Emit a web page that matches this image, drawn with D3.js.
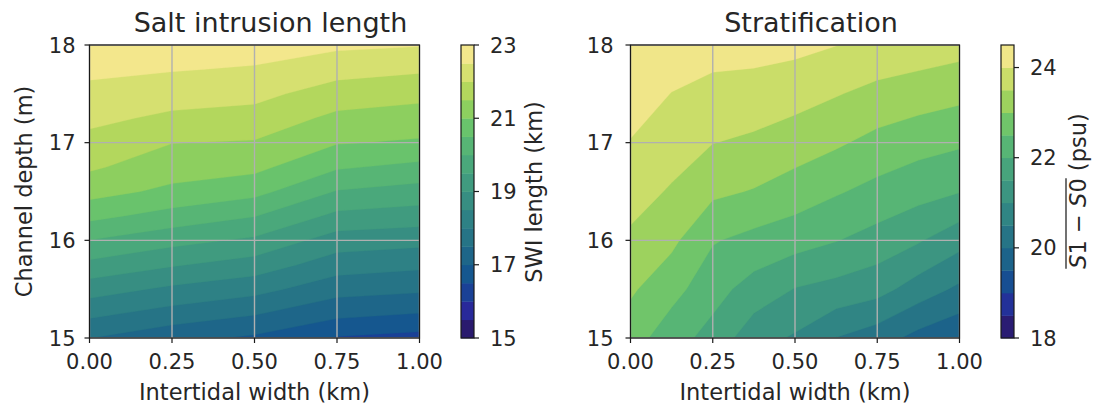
<!DOCTYPE html>
<html><head><meta charset="utf-8">
<script src="https://cdn.jsdelivr.net/npm/d3@7"></script>
<style>
body{margin:0;background:#fff}
text{font-family:"DejaVu Sans",sans-serif;fill:#262626}
</style>
</head><body>
<svg id="chart" width="1094" height="405"></svg>
<script>
// ---------------- data ----------------
const widthTicks = [0, 0.25, 0.5, 0.75, 1.0];
const widthTickLabels = ["0.00", "0.25", "0.50", "0.75", "1.00"];
const depthTicks = [15, 16, 17, 18];

// Salt intrusion length (km): columns = intertidal width, rows = channel depth (15 -> 18 m)
const swiWidth = [0, 0.25, 0.5, 0.75, 1.0];
const swiDepth = [15, 15.25, 15.5, 15.75, 16, 16.25, 16.5, 16.75, 17, 17.25, 17.5, 17.75, 18];
const swiValues = [
  [17.51, 17.15, 16.92, 16.46, 16.33],
  [18.12, 17.81, 17.54, 17.14, 16.99],
  [18.73, 18.40, 18.17, 17.69, 17.59],
  [19.37, 19.05, 18.78, 18.24, 18.11],
  [19.99, 19.67, 19.41, 18.76, 18.66],
  [20.64, 20.31, 20.02, 19.38, 19.27],
  [21.18, 20.89, 20.66, 19.97, 19.80],
  [21.57, 21.23, 21.13, 20.56, 20.37],
  [21.85, 21.51, 21.46, 21.03, 20.94],
  [22.12, 21.90, 21.81, 21.38, 21.28],
  [22.36, 22.22, 22.14, 21.77, 21.64],
  [22.61, 22.53, 22.45, 22.18, 22.07],
  [22.87, 22.83, 22.74, 22.60, 22.53]
];
const swiLevels = [15, 15.5, 16, 16.5, 17, 17.5, 18, 18.5, 19, 19.5, 20, 20.5, 21, 21.5, 22, 22.5, 23];
const swiCbTicks = [15, 17, 19, 21, 23];

// Stratification (psu)
const stratWidth = [0, 0.125, 0.25, 0.375, 0.5, 0.625, 0.75, 0.875, 1.0];
const stratDepth = [15, 15.5, 16, 16.5, 17, 17.5, 18];
const stratValues = [
  [22.74, 22.20, 21.83, 21.19, 20.94, 20.49, 20.23, 19.84, 19.59],
  [23.07, 22.68, 22.18, 21.80, 21.48, 21.34, 21.18, 20.77, 20.40],
  [23.41, 23.11, 22.54, 22.35, 22.20, 22.02, 21.81, 21.55, 21.18],
  [23.70, 23.45, 23.10, 22.97, 22.77, 22.55, 22.35, 22.18, 22.02],
  [23.98, 23.73, 23.51, 23.41, 23.25, 23.07, 22.85, 22.68, 22.57],
  [24.22, 23.99, 23.85, 23.80, 23.69, 23.53, 23.36, 23.25, 23.13],
  [24.45, 24.25, 24.19, 24.18, 24.13, 24.01, 23.86, 23.78, 23.69]
];
const stratLevels = [18, 18.5, 19, 19.5, 20, 20.5, 21, 21.5, 22, 22.5, 23, 23.5, 24, 24.5];
const stratCbTicks = [18, 20, 22, 24];

// ---------------- colormap (haline-like) ----------------
const cmapStops = [
  [0.031, "#2a1a6e"], [0.094, "#28299a"], [0.156, "#1a4196"], [0.219, "#15578f"],
  [0.281, "#1e6689"], [0.344, "#267486"], [0.406, "#2e8185"], [0.469, "#378e82"],
  [0.531, "#409b7f"], [0.594, "#4aa87b"], [0.656, "#57b575"], [0.719, "#69c36c"],
  [0.781, "#8dcf5f"], [0.844, "#b3d75d"], [0.906, "#d6e070"], [0.969, "#f3e78c"]
];
const cmap = d3.scaleLinear()
  .domain(cmapStops.map(d => d[0]))
  .range(cmapStops.map(d => d[1]))
  .interpolate(d3.interpolateRgb).clamp(true);

const svg = d3.select("#chart");
const FS_TICK = 21, FS_LABEL = 22.5, FS_TITLE = 27;

function panel(cfg) {
  const {left, right, top, bottom, xs, ys, values, levels, cbX, cbTicks, title, id, yLabelGap} = cfg;
  const x = d3.scaleLinear().domain([0, 1]).range([left, right]);
  const y = d3.scaleLinear().domain([15, 18]).range([bottom, top]);
  const lv0 = levels[0], lvN = levels[levels.length - 1];
  const bandColor = k => cmap(((levels[k] + levels[k + 1]) / 2 - lv0) / (lvN - lv0));

  const g = svg.append("g");
  svg.append("clipPath").attr("id", "clip" + id)
    .append("rect").attr("x", left).attr("y", top).attr("width", right - left).attr("height", bottom - top);

  // padded grid for d3.contours (edge-replicated)
  const nx = xs.length, ny = ys.length, W = nx + 2, H = ny + 2;
  const flat = [];
  for (let j = 0; j < H; j++) {
    const jj = Math.max(0, Math.min(ny - 1, j - 1));
    for (let i = 0; i < W; i++) {
      const ii = Math.max(0, Math.min(nx - 1, i - 1));
      flat.push(values[jj][ii]);
    }
  }
  const dx = xs[1] - xs[0], dy = ys[1] - ys[0];
  const proj = d3.geoTransform({
    point(px, py) { this.stream.point(x(xs[0] + (px - 1.5) * dx), y(ys[0] + (py - 1.5) * dy)); }
  });
  const path = d3.geoPath(proj);
  const cs = d3.contours().size([W, H]).thresholds(levels.slice(0, -1))(flat);
  g.append("g").attr("clip-path", `url(#clip${id})`)
    .selectAll("path").data(cs).join("path")
    .attr("d", path)
    .attr("fill", (d, i) => bandColor(i))
    .attr("stroke", (d, i) => bandColor(i)).attr("stroke-width", 0.3);

  // grid
  const grid = g.append("g").attr("stroke", "#b0b0b0").attr("stroke-width", 1.4);
  grid.selectAll("line.gx").data(widthTicks).join("line")
    .attr("x1", d => x(d)).attr("x2", d => x(d)).attr("y1", top).attr("y2", bottom);
  grid.selectAll("line.gy").data(depthTicks).join("line").attr("class", "gy")
    .attr("x1", left).attr("x2", right).attr("y1", d => y(d)).attr("y2", d => y(d));

  // spines
  g.append("rect").attr("x", left).attr("y", top).attr("width", right - left).attr("height", bottom - top)
    .attr("fill", "none").attr("stroke", "#1a1a1a").attr("stroke-width", 1.2);

  // ticks
  const tk = g.append("g").attr("stroke", "#1a1a1a").attr("stroke-width", 1.2);
  tk.selectAll("line.tx").data(widthTicks).join("line").attr("class", "tx")
    .attr("x1", d => x(d)).attr("x2", d => x(d)).attr("y1", bottom).attr("y2", bottom + 5);
  tk.selectAll("line.ty").data(depthTicks).join("line").attr("class", "ty")
    .attr("x1", left - 5).attr("x2", left).attr("y1", d => y(d)).attr("y2", d => y(d));

  g.selectAll("text.xl").data(widthTicks).join("text").attr("class", "xl")
    .attr("x", d => x(d)).attr("y", 369).attr("text-anchor", "middle")
    .attr("font-size", FS_TICK).text((d, i) => widthTickLabels[i]);
  g.selectAll("text.yl").data(depthTicks).join("text").attr("class", "yl")
    .attr("x", left - yLabelGap).attr("y", d => y(d) + 0.36 * FS_TICK).attr("text-anchor", "end")
    .attr("font-size", FS_TICK).text(d => d);

  g.append("text").attr("x", (left + right) / 2).attr("y", 400).attr("text-anchor", "middle")
    .attr("font-size", FS_LABEL).text("Intertidal width (km)");
  g.append("text").attr("x", (left + right) / 2 + 16).attr("y", 31.5).attr("text-anchor", "middle")
    .attr("font-size", FS_TITLE).text(title);

  // colorbar
  const cbW = 13;
  const cy = d3.scaleLinear().domain([lv0, lvN]).range([bottom, top]);
  const cb = svg.append("g");
  cb.selectAll("rect.band").data(d3.range(levels.length - 1)).join("rect").attr("class", "band")
    .attr("x", cbX).attr("width", cbW)
    .attr("y", k => cy(levels[k + 1])).attr("height", k => cy(levels[k]) - cy(levels[k + 1]) + 0.4)
    .attr("fill", k => bandColor(k));
  cb.append("rect").attr("x", cbX).attr("y", top).attr("width", cbW).attr("height", bottom - top)
    .attr("fill", "none").attr("stroke", "#1a1a1a").attr("stroke-width", 1.2);
  cb.selectAll("line.ct").data(cbTicks).join("line").attr("class", "ct")
    .attr("x1", cbX + cbW).attr("x2", cbX + cbW + 5).attr("y1", d => cy(d)).attr("y2", d => cy(d))
    .attr("stroke", "#1a1a1a").attr("stroke-width", 1.2);
  cb.selectAll("text.ctl").data(cbTicks).join("text").attr("class", "ctl")
    .attr("x", cbX + cbW + 16).attr("y", d => cy(d) + 0.36 * FS_TICK)
    .attr("font-size", FS_TICK).text(d => d);
  return {x, y, cb, top, bottom};
}

const p1 = panel({left: 89.5, right: 419.5, top: 45, bottom: 338, xs: swiWidth, ys: swiDepth,
  values: swiValues, levels: swiLevels, cbX: 461, cbTicks: swiCbTicks, title: "Salt intrusion length", id: 1, yLabelGap: 14});
const p2 = panel({left: 630.5, right: 959.5, top: 45, bottom: 338, xs: stratWidth, ys: stratDepth,
  values: stratValues, levels: stratLevels, cbX: 1001, cbTicks: stratCbTicks, title: "Stratification", id: 2, yLabelGap: 17});

// y-axis label
svg.append("text").attr("transform", "translate(31.5,191.5) rotate(-90)")
  .attr("text-anchor", "middle").attr("font-size", FS_LABEL).text("Channel depth (m)");

// colorbar labels
svg.append("text").attr("transform", "translate(541.5,192) rotate(-90)")
  .attr("text-anchor", "middle").attr("font-size", FS_LABEL).text("SWI length (km)");

const lg = svg.append("g").attr("transform", "translate(1086,191) rotate(-90)");
const lt = lg.append("text").attr("text-anchor", "middle").attr("font-size", FS_LABEL);
lt.append("tspan").attr("font-style", "italic").text("S");
lt.append("tspan").text("1 \u2212 ");
lt.append("tspan").attr("font-style", "italic").text("S");
lt.append("tspan").text("0");
lt.append("tspan").text(" (psu)");
const node = lt.node();
const total = node.getComputedTextLength();
const ovl = node.getSubStringLength(0, 7);
lg.append("line").attr("x1", -total / 2).attr("x2", -total / 2 + ovl)
  .attr("y1", -20).attr("y2", -20).attr("stroke", "#262626").attr("stroke-width", 1.3);
</script>
</body></html>
